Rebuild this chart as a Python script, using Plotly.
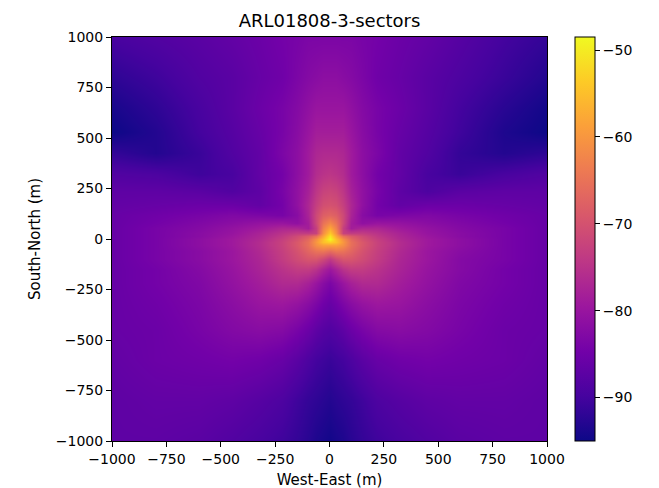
import plotly.graph_objects as go

x_m = [-1000,-800,-600,-450,-320,-220,-150,-100,-60,-30,0,30,60,100,150,220,320,450,600,800,1000]
y_m = [1000,800,650,530,425,320,240,170,117,80,53,32,16,0,-16,-32,-60,-100,-150,-220,-320,-450,-600,-800,-1000]
rss_dbm = [
[-89.5,-88.5,-87.5,-86.5,-85.5,-84.5,-84,-83.5,-83.5,-83.5,-83.5,-83.5,-83.5,-83.5,-84,-84.5,-85.5,-86.5,-88,-90,-91.5],
[-92,-90.5,-88.5,-87.5,-86,-85,-83.5,-82.5,-82,-81.5,-81.5,-81.5,-82,-82.5,-83.5,-85,-86,-87.5,-89,-91,-93],
[-94,-92,-89.5,-87.5,-85.5,-84,-82.5,-81,-80,-80,-80,-80,-80,-81,-82.5,-84,-85.5,-87.5,-90,-92.5,-94.5],
[-95,-93,-90,-88,-86,-84,-82,-80,-78.5,-78.5,-78.5,-78.5,-78.5,-80,-82,-84,-86,-88,-90.5,-93.5,-95],
[-91.5,-93,-91,-88.5,-86.5,-83.5,-81.5,-79,-77,-76.5,-76.5,-76.5,-77,-79,-81.5,-83.5,-86.5,-88.5,-91.5,-93,-92],
[-88.5,-89,-90.5,-89.5,-86.5,-84.5,-81.5,-79,-76,-75,-74.5,-75,-76,-79,-81.5,-84.5,-86.5,-89.5,-91,-89.5,-88.5],
[-87,-87,-87.5,-88.5,-87,-84,-81,-78,-74.5,-72.5,-72,-72.5,-74.5,-78,-81,-84,-87,-89,-87.5,-87,-87],
[-86.5,-86,-85.5,-85.5,-86.5,-84.5,-81,-77,-73,-70.5,-70,-70.5,-73,-77,-81,-84.5,-86.5,-85.5,-85.5,-86,-86.5],
[-86,-85,-84,-83,-83.5,-84,-82,-77.5,-71.5,-68,-67,-68,-71.5,-77.5,-82,-84,-83.5,-83,-84,-85,-86],
[-86,-84.5,-83,-81.7,-80.5,-80,-81,-78.5,-71.5,-65,-62,-65,-71.5,-78.5,-81,-80,-80.5,-81.7,-83,-84.5,-86],
[-86,-84,-82.5,-80.7,-79,-77,-77,-78.5,-73,-63,-58,-63,-73,-78.5,-77,-77,-79,-80.7,-82.5,-84,-86],
[-86,-84,-82,-80.2,-77.5,-75,-73.5,-73.5,-72.5,-61,-54,-61,-72.5,-73.5,-73.5,-75,-77.5,-80.2,-82,-84,-86],
[-86,-84,-82,-79.7,-77,-74,-71,-68.5,-65,-58,-50.5,-58,-65,-68.5,-71,-74,-77,-79.7,-82,-84,-86],
[-86,-84,-81.5,-79.2,-76.5,-73,-70,-66.5,-61,-55,-48.5,-55,-61,-66.5,-70,-73,-76.5,-79.2,-81.5,-84,-86],
[-86,-84,-81.5,-79.2,-76,-72.5,-69,-65.5,-60,-55,-53,-55,-60,-65.5,-69,-72.5,-76,-79.2,-81.5,-84,-86],
[-86,-84,-81.5,-79.2,-76,-72.5,-69,-65.5,-61,-59,-59,-59,-61,-65.5,-69,-72.5,-76,-79.2,-81.5,-84,-86],
[-86,-84,-82,-79.7,-76.5,-73,-70,-67,-65,-64.5,-66,-64.5,-65,-67,-70,-73,-76.5,-79.7,-82,-84,-86],
[-86,-84,-82,-79.7,-77,-73.5,-71,-69.5,-69.5,-71.5,-74,-71.5,-69.5,-69.5,-71,-73.5,-77,-79.7,-82.5,-84,-86],
[-86,-84.5,-82.5,-80.2,-77.5,-75,-73.5,-73.5,-75,-77.5,-79.5,-77.5,-75,-73.5,-73.5,-75,-77.5,-80.2,-82.5,-84.5,-86],
[-86,-84.5,-83,-80.7,-78.5,-76.5,-76.5,-78,-80,-82,-83.5,-82,-80,-78,-76.5,-76.5,-78.5,-80.7,-83,-84.5,-86],
[-86,-85,-83.5,-81.7,-80,-79.5,-80.5,-82,-83.5,-85,-86,-85,-83.5,-82,-80.5,-79.5,-80,-81.7,-83.5,-85,-86],
[-86,-85.5,-84,-82.7,-82,-82.5,-84,-85.5,-87,-88,-88.5,-88,-87,-85.5,-84,-82.5,-82,-82.7,-84,-85.5,-86],
[-86.5,-85.5,-85,-84.5,-85,-86,-87.5,-89,-90,-90.5,-91,-90.5,-90,-89,-87.5,-86,-85,-84.5,-85,-85.5,-86.5],
[-87,-86.5,-86.5,-87,-88,-89,-90.5,-91.5,-92,-92.5,-93,-92.5,-92,-91.5,-90.5,-89,-88,-87,-86.5,-86.5,-87],
[-87,-87,-87.5,-88.5,-89.5,-90.5,-91.5,-92.5,-93.5,-94,-94.5,-94,-93.5,-92.5,-91.5,-90.5,-89.5,-88.5,-87.5,-87,-87],
]
xtick_vals = [-1000,-750,-500,-250,0,250,500,750,1000]
cbar_ticks = [-90,-80,-70,-60,-50]

F = "DejaVu Sans"
fig = go.Figure(go.Heatmap(
    x=x_m, y=y_m[::-1], z=rss_dbm[::-1],
    colorscale="Plasma", zmin=-95, zmax=-48.5, zsmooth="best",
    colorbar=dict(
        x=(575-112)/435, xanchor="left", xpad=0, y=0, yanchor="bottom", ypad=0,
        len=1, lenmode="fraction", thickness=20, thicknessmode="pixels",
        tickmode="array", tickvals=cbar_ticks, ticks="outside", ticklen=5,
        tickwidth=1, tickcolor="black", outlinewidth=1, outlinecolor="black",
        tickfont=dict(family=F, size=14, color="black"),
    ),
))
axis = dict(range=[-1000,1000], tickmode="array", tickvals=xtick_vals, ticks="outside",
            ticklen=5, tickwidth=1, tickcolor="black", showline=True, mirror=True,
            linecolor="black", linewidth=1, showgrid=False, zeroline=False,
            tickfont=dict(family=F, size=14, color="black"))
fig.update_layout(
    width=659, height=488, autosize=False,
    margin=dict(l=104, r=120, t=29, b=55, pad=0),
    paper_bgcolor="white", plot_bgcolor="white",
    font=dict(family=F, color="black"),
    title=dict(text="ARL01808-3-sectors", x=(104+539)/2/659, xanchor="center",
               y=1-19/488, yanchor="bottom", font=dict(family=F, size=18, color="black")),
    xaxis=dict(axis, title=dict(text="West-East (m)", font=dict(family=F, size=15, color="black"), standoff=8)),
    yaxis=dict(axis, title=dict(text="South-North (m)", font=dict(family=F, size=15, color="black"), standoff=11)),
)
fig.write_html("out.html")
